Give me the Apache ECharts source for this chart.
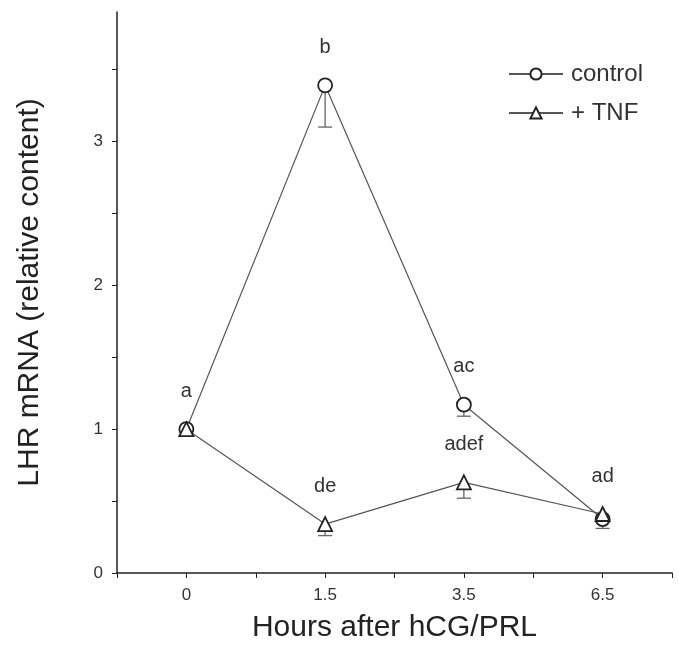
<!DOCTYPE html>
<html>
<head>
<meta charset="utf-8">
<script src="https://cdn.jsdelivr.net/npm/echarts@6/dist/echarts.min.js"></script>
<style>html,body{margin:0;padding:0;background:#fff}#c{width:679px;height:648px}</style>
</head>
<body>
<div id="c"></div>
<script>
var categories = ['0', '1.5', '3.5', '6.5'];
var controlValues = [1.0, 3.39, 1.17, 0.375];
var controlErr = [0.0, 0.29, 0.08, 0.065];
var tnfValues = [1.0, 0.34, 0.63, 0.41];
var tnfErr = [0.0, 0.08, 0.11, 0.0];
var controlLetters = ['a', 'b', 'ac', ''];
var tnfLetters = ['', 'de', 'adef', 'ad'];
var yTickLabels = [0, 1, 2, 3];

var FONT = 'Liberation Sans, Arial, sans-serif';
var chart = echarts.init(document.getElementById('c'));

function pts(vals, letters) {
  return vals.map(function (v, i) {
    return {
      value: [i, v],
      label: { show: !!letters[i], formatter: letters[i] }
    };
  });
}
function errData(vals, errs) {
  var out = [];
  vals.forEach(function (v, i) { if (errs[i] > 0) out.push([i, v, v - errs[i]]); });
  return out;
}
function errRender(params, api) {
  var x = api.value(0);
  var top = api.coord([x, api.value(1)]);
  var bot = api.coord([x, api.value(2)]);
  var half = 7;
  var style = { stroke: '#666', lineWidth: 1.3 };
  return {
    type: 'group',
    children: [
      { type: 'line', shape: { x1: top[0], y1: top[1], x2: bot[0], y2: bot[1] }, style: style },
      { type: 'line', shape: { x1: bot[0] - half, y1: bot[1], x2: bot[0] + half, y2: bot[1] }, style: style }
    ]
  };
}
var yTicks = [];
for (var t = 0; t <= 3.5; t += 0.5) yTicks.push(t);

var labelStyle = { position: 'top', distance: 20, color: '#333', fontSize: 20, fontFamily: FONT };

chart.setOption({
  animation: false,
  backgroundColor: '#fff',
  grid: { left: 117, top: 12, right: 7, bottom: 73 },
  legend: {
    left: 508, top: 62, orient: 'vertical', padding: 0,
    itemWidth: 54, itemHeight: 14, itemGap: 15,
    textStyle: { fontFamily: FONT, fontSize: 24, color: '#333', padding: [0, 0, 0, 3] },
    data: ['control', '+ TNF']
  },
  xAxis: {
    type: 'value', min: -0.5, max: 3.5, interval: 0.5,
    name: 'Hours after hCG/PRL', nameLocation: 'middle', nameGap: 40,
    nameTextStyle: { fontFamily: FONT, fontSize: 30, color: '#222' },
    axisLine: { onZero: false, lineStyle: { color: '#222', width: 1.5 } },
    axisTick: { length: 5, lineStyle: { color: '#222' } },
    splitLine: { show: false },
    axisLabel: {
      fontFamily: FONT, fontSize: 17, color: '#333', margin: 14,
      formatter: function (v) {
        var i = Math.round(v);
        return (Math.abs(v - i) < 1e-9 && i >= 0 && i < categories.length) ? categories[i] : '';
      }
    }
  },
  yAxis: {
    type: 'value', min: 0, max: 3.9,
    name: 'LHR mRNA (relative content)', nameLocation: 'middle', nameGap: 72,
    nameTextStyle: { fontFamily: FONT, fontSize: 30, color: '#222' },
    axisLine: { show: true, onZero: false, lineStyle: { color: '#222', width: 1.5 } },
    axisTick: { show: true, length: 5, customValues: yTicks, lineStyle: { color: '#222' } },
    splitLine: { show: false },
    axisLabel: { fontFamily: FONT, fontSize: 17, color: '#333', margin: 14, customValues: yTickLabels }
  },
  series: [
    { type: 'custom', name: 'errC', renderItem: errRender, data: errData(controlValues, controlErr), z: 1, silent: true },
    { type: 'custom', name: 'errT', renderItem: errRender, data: errData(tnfValues, tnfErr), z: 1, silent: true },
    {
      name: 'control', type: 'line', data: pts(controlValues, controlLetters),
      symbol: 'circle', symbolSize: 14, z: 3,
      lineStyle: { color: '#555', width: 1.2 },
      itemStyle: { color: '#fff', borderColor: '#222', borderWidth: 1.8 },
      label: labelStyle
    },
    {
      name: '+ TNF', type: 'line', data: pts(tnfValues, tnfLetters),
      symbol: 'triangle', symbolSize: 14, z: 4,
      lineStyle: { color: '#555', width: 1.2 },
      itemStyle: { color: '#fff', borderColor: '#222', borderWidth: 1.8 },
      label: labelStyle
    }
  ]
});
</script>
</body>
</html>
